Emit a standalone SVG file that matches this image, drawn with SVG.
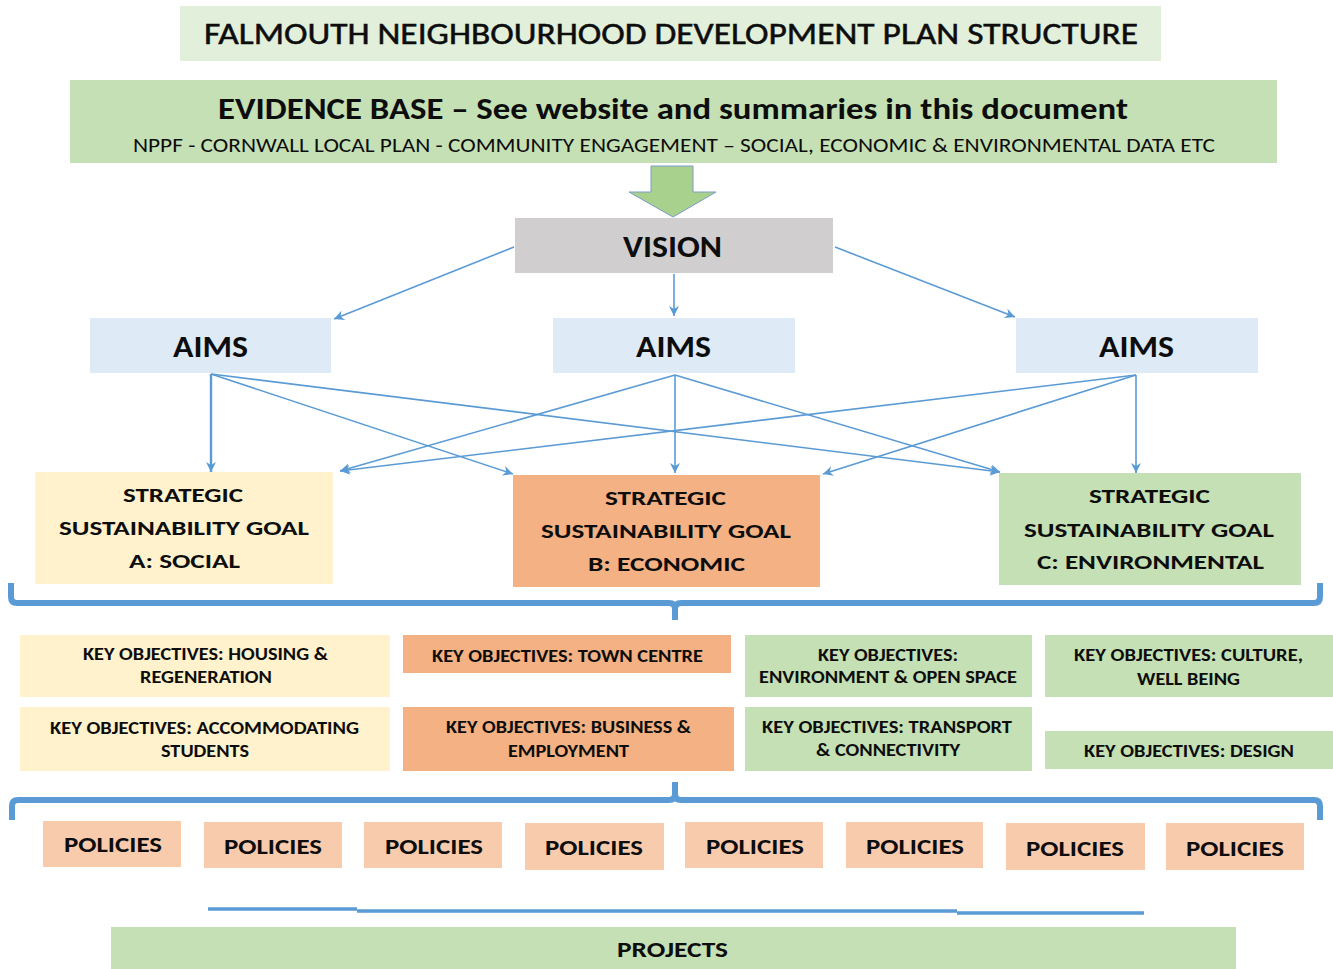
<svg xmlns="http://www.w3.org/2000/svg" width="1333" height="969" viewBox="0 0 1333 969">
<style>
text{font-family:Carlito,Lato,"Liberation Sans",sans-serif;fill:#0d0d0d;font-weight:bold}
.reg{font-weight:normal}
.con{stroke:#5b9bd5;stroke-width:1.6;fill:none}
.brace{stroke:#5b9bd5;stroke-width:6;fill:none;stroke-linejoin:round}
.t30{font-size:31px}
.t21{font-size:21px}
.t17{font-size:17px}
.t22{font-size:22px}
</style>
<defs>
<marker id="ah" markerUnits="userSpaceOnUse" markerWidth="12" markerHeight="10" refX="10" refY="5" orient="auto">
<path d="M0,0 L10,5 L0,10 L3,5 Z" fill="#5b9bd5"/>
</marker>
</defs>
<rect width="1333" height="969" fill="#ffffff"/>

<g id="title">
<rect x="180" y="6" width="981" height="55" fill="#e2efda"/>
<text class="t30 reg" x="204" y="44" textLength="934" lengthAdjust="spacingAndGlyphs" style="stroke:#0d0d0d;stroke-width:0.5">FALMOUTH NEIGHBOURHOOD DEVELOPMENT PLAN STRUCTURE</text>
</g>

<g id="evidence">
<rect x="70" y="80" width="1207" height="83" fill="#c5e0b4"/>
<text class="t30" x="218" y="119" textLength="910" lengthAdjust="spacingAndGlyphs">EVIDENCE BASE – See website and summaries in this document</text>
<text class="reg" font-size="20" x="133" y="152" textLength="1082" lengthAdjust="spacingAndGlyphs">NPPF - CORNWALL LOCAL PLAN - COMMUNITY ENGAGEMENT – SOCIAL, ECONOMIC &amp; ENVIRONMENTAL DATA ETC</text>
</g>

<g id="evidence-arrow">
<path d="M651,166 L693,166 L693,192 L716,192 L673,217 L629,192 L651,192 Z" fill="#a9d18e" stroke="#7a9cc6" stroke-width="1"/>
</g>

<g id="vision">
<rect x="515" y="218" width="318" height="55" fill="#d0cece"/>
<text class="t30" x="623" y="257" textLength="99" lengthAdjust="spacingAndGlyphs">VISION</text>
</g>

<g id="aims-left">
<rect x="90" y="318" width="241" height="55" fill="#deebf7"/>
<text class="t30" x="173" y="357" textLength="75" lengthAdjust="spacingAndGlyphs">AIMS</text>
</g>
<g id="aims-middle">
<rect x="553" y="318" width="242" height="55" fill="#deebf7"/>
<text class="t30" x="636" y="357" textLength="75" lengthAdjust="spacingAndGlyphs">AIMS</text>
</g>
<g id="aims-right">
<rect x="1016" y="318" width="242" height="55" fill="#deebf7"/>
<text class="t30" x="1099" y="357" textLength="75" lengthAdjust="spacingAndGlyphs">AIMS</text>
</g>

<g id="goal-social">
<rect x="35" y="472" width="298" height="112" fill="#fff2cc"/>
<text class="t21" x="123" y="502" textLength="120" lengthAdjust="spacingAndGlyphs">STRATEGIC</text>
<text class="t21" x="59" y="535" textLength="250" lengthAdjust="spacingAndGlyphs">SUSTAINABILITY GOAL</text>
<text class="t21" x="129" y="568" textLength="111" lengthAdjust="spacingAndGlyphs">A: SOCIAL</text>
</g>
<g id="goal-economic">
<rect x="513" y="475" width="307" height="112" fill="#f4b183"/>
<text class="t21" x="605" y="505" textLength="121" lengthAdjust="spacingAndGlyphs">STRATEGIC</text>
<text class="t21" x="541" y="538" textLength="250" lengthAdjust="spacingAndGlyphs">SUSTAINABILITY GOAL</text>
<text class="t21" x="588" y="571" textLength="157" lengthAdjust="spacingAndGlyphs">B: ECONOMIC</text>
</g>
<g id="goal-environmental">
<rect x="999" y="473" width="302" height="112" fill="#c5e0b4"/>
<text class="t21" x="1089" y="503" textLength="121" lengthAdjust="spacingAndGlyphs">STRATEGIC</text>
<text class="t21" x="1024" y="537" textLength="250" lengthAdjust="spacingAndGlyphs">SUSTAINABILITY GOAL</text>
<text class="t21" x="1037" y="569" textLength="227" lengthAdjust="spacingAndGlyphs">C: ENVIRONMENTAL</text>
</g>

<g id="obj-housing">
<rect x="20" y="635" width="370" height="62" fill="#fff2cc"/>
<text class="t17" x="83" y="660" textLength="245" lengthAdjust="spacingAndGlyphs">KEY OBJECTIVES: HOUSING &amp;</text>
<text class="t17" x="140" y="683" textLength="132" lengthAdjust="spacingAndGlyphs">REGENERATION</text>
</g>
<g id="obj-students">
<rect x="20" y="707" width="370" height="64" fill="#fff2cc"/>
<text class="t17" x="50" y="734" textLength="309" lengthAdjust="spacingAndGlyphs">KEY OBJECTIVES: ACCOMMODATING</text>
<text class="t17" x="161" y="757" textLength="88" lengthAdjust="spacingAndGlyphs">STUDENTS</text>
</g>
<g id="obj-town-centre">
<rect x="403" y="635" width="328" height="38" fill="#f4b183"/>
<text class="t17" x="432" y="662" textLength="271" lengthAdjust="spacingAndGlyphs">KEY OBJECTIVES: TOWN CENTRE</text>
</g>
<g id="obj-business">
<rect x="403" y="707" width="331" height="64" fill="#f4b183"/>
<text class="t17" x="446" y="733" textLength="245" lengthAdjust="spacingAndGlyphs">KEY OBJECTIVES: BUSINESS &amp;</text>
<text class="t17" x="508" y="757" textLength="121" lengthAdjust="spacingAndGlyphs">EMPLOYMENT</text>
</g>
<g id="obj-environment">
<rect x="745" y="635" width="287" height="62" fill="#c5e0b4"/>
<text class="t17" x="818" y="661" textLength="140" lengthAdjust="spacingAndGlyphs">KEY OBJECTIVES:</text>
<text class="t17" x="759" y="683" textLength="258" lengthAdjust="spacingAndGlyphs">ENVIRONMENT &amp; OPEN SPACE</text>
</g>
<g id="obj-transport">
<rect x="745" y="707" width="287" height="64" fill="#c5e0b4"/>
<text class="t17" x="762" y="733" textLength="250" lengthAdjust="spacingAndGlyphs">KEY OBJECTIVES: TRANSPORT</text>
<text class="t17" x="816" y="756" textLength="144" lengthAdjust="spacingAndGlyphs">&amp; CONNECTIVITY</text>
</g>
<g id="obj-culture">
<rect x="1045" y="635" width="288" height="62" fill="#c5e0b4"/>
<text class="t17" x="1074" y="661" textLength="229" lengthAdjust="spacingAndGlyphs">KEY OBJECTIVES: CULTURE,</text>
<text class="t17" x="1137" y="685" textLength="103" lengthAdjust="spacingAndGlyphs">WELL BEING</text>
</g>
<g id="obj-design">
<rect x="1045" y="731" width="288" height="38" fill="#c5e0b4"/>
<text class="t17" x="1084" y="757" textLength="210" lengthAdjust="spacingAndGlyphs">KEY OBJECTIVES: DESIGN</text>
</g>

<g id="policies-1"><rect x="43" y="821" width="138" height="46" fill="#f8cbad"/><text class="t22" x="64" y="852" textLength="98" lengthAdjust="spacingAndGlyphs">POLICIES</text></g>
<g id="policies-2"><rect x="204" y="822" width="138" height="46" fill="#f8cbad"/><text class="t22" x="224" y="854" textLength="98" lengthAdjust="spacingAndGlyphs">POLICIES</text></g>
<g id="policies-3"><rect x="364" y="822" width="138" height="46" fill="#f8cbad"/><text class="t22" x="385" y="854" textLength="98" lengthAdjust="spacingAndGlyphs">POLICIES</text></g>
<g id="policies-4"><rect x="525" y="823" width="139" height="47" fill="#f8cbad"/><text class="t22" x="545" y="855" textLength="98" lengthAdjust="spacingAndGlyphs">POLICIES</text></g>
<g id="policies-5"><rect x="685" y="822" width="138" height="46" fill="#f8cbad"/><text class="t22" x="706" y="854" textLength="98" lengthAdjust="spacingAndGlyphs">POLICIES</text></g>
<g id="policies-6"><rect x="846" y="822" width="137" height="46" fill="#f8cbad"/><text class="t22" x="866" y="854" textLength="98" lengthAdjust="spacingAndGlyphs">POLICIES</text></g>
<g id="policies-7"><rect x="1006" y="823" width="139" height="47" fill="#f8cbad"/><text class="t22" x="1026" y="856" textLength="98" lengthAdjust="spacingAndGlyphs">POLICIES</text></g>
<g id="policies-8"><rect x="1166" y="823" width="138" height="47" fill="#f8cbad"/><text class="t22" x="1186" y="856" textLength="98" lengthAdjust="spacingAndGlyphs">POLICIES</text></g>

<g id="projects">
<rect x="111" y="927" width="1125" height="42" fill="#c5e0b4"/>
<text class="t22" x="617" y="957" textLength="111" lengthAdjust="spacingAndGlyphs">PROJECTS</text>
</g>

<g id="connectors">
<line class="con" x1="514" y1="247" x2="334" y2="319" marker-end="url(#ah)"/>
<line class="con" x1="674" y1="274" x2="674" y2="316" marker-end="url(#ah)"/>
<line class="con" x1="835" y1="247" x2="1015" y2="317" marker-end="url(#ah)"/>

<line class="con" style="stroke-width:2.4" x1="211" y1="374" x2="211" y2="472" marker-end="url(#ah)"/>
<line class="con" x1="211" y1="374" x2="513" y2="474" marker-end="url(#ah)"/>
<line class="con" x1="211" y1="374" x2="1000" y2="472" marker-end="url(#ah)"/>

<line class="con" x1="675" y1="375" x2="340" y2="471" marker-end="url(#ah)"/>
<line class="con" x1="675" y1="375" x2="675" y2="473" marker-end="url(#ah)"/>
<line class="con" x1="675" y1="375" x2="1000" y2="472" marker-end="url(#ah)"/>

<line class="con" x1="1136" y1="375" x2="340" y2="471" marker-end="url(#ah)"/>
<line class="con" x1="1136" y1="375" x2="823" y2="474" marker-end="url(#ah)"/>
<line class="con" x1="1136" y1="375" x2="1136" y2="473" marker-end="url(#ah)"/>

<path class="brace" d="M11,583 L11,597 Q11,603 17,603 L669,603 Q675,603 675,609 L675,620 M675,609 Q675,603 681,603 L1314,603 Q1320,603 1320,597 L1320,583"/>
<path class="brace" d="M12,820 L12,806 Q12,800 18,800 L669,800 Q675,800 675,794 L675,782 M675,794 Q675,800 681,800 L1314,800 Q1320,800 1320,806 L1320,820"/>

<path class="con" style="stroke-width:3.5" d="M208,909 L357,909 M357,911 L957,911 M957,913 L1144,913"/>
</g>
</svg>
